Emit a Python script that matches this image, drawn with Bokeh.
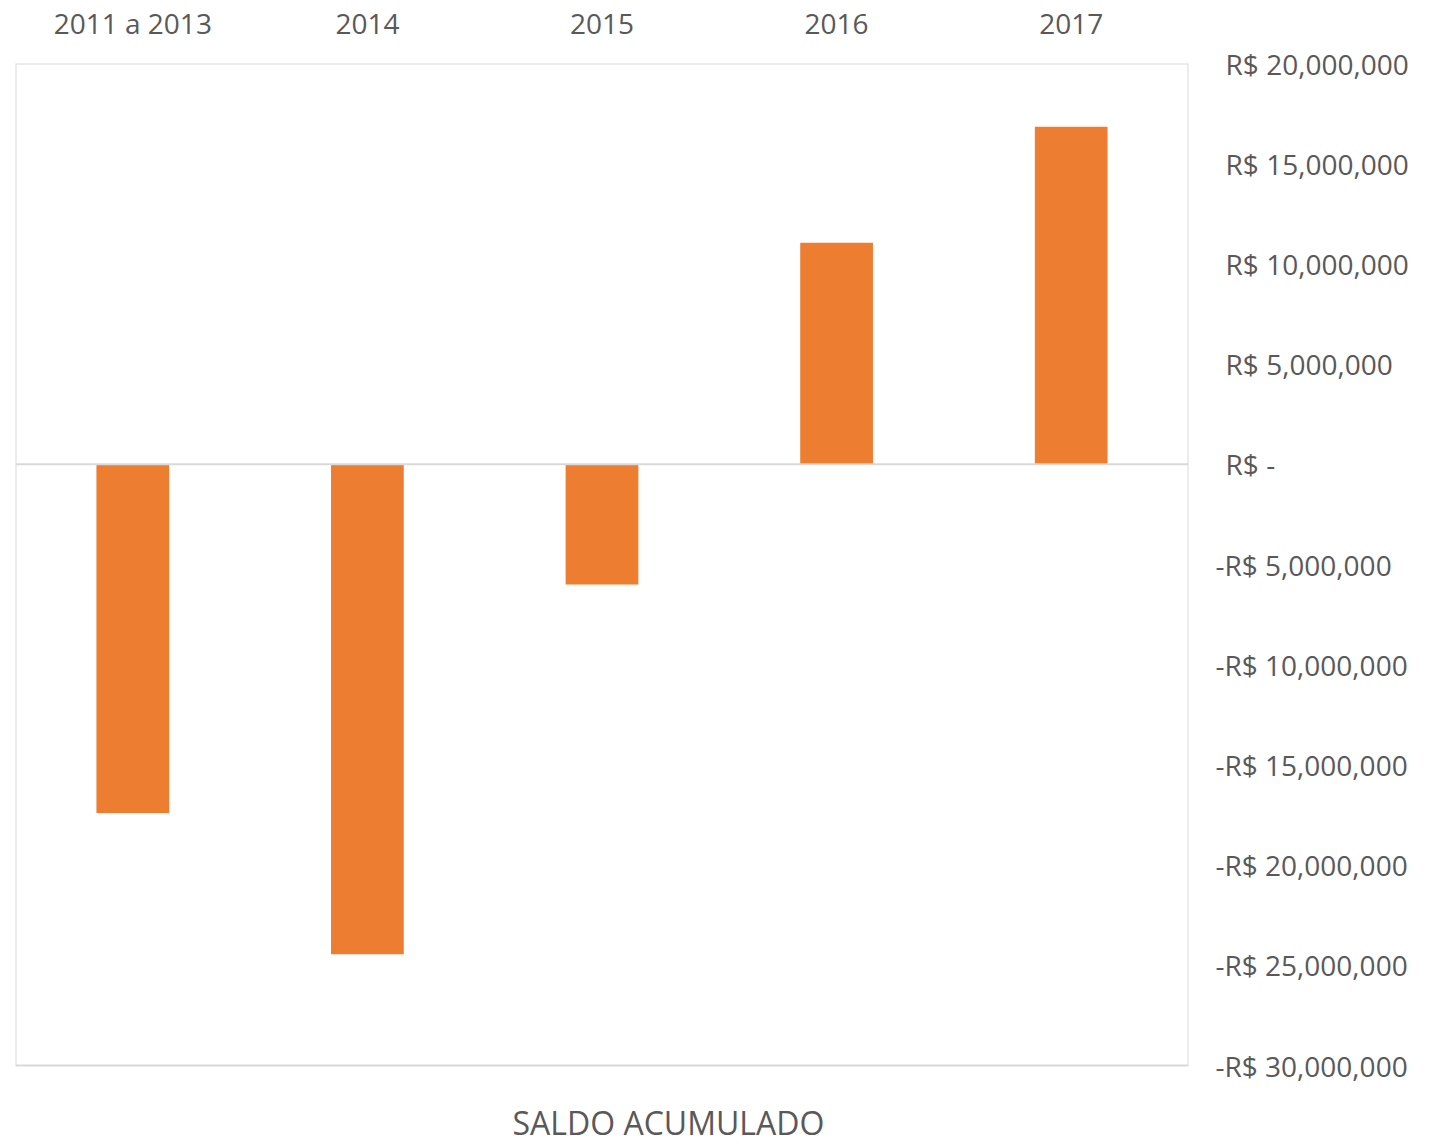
from bokeh.plotting import figure
from bokeh.models import (ColumnDataSource, Span, Label, BoxAnnotation,
                          FixedTicker, CustomJSTickFormatter)
from bokeh.embed import file_html
from bokeh.resources import INLINE

categories = ["2011 a 2013", "2014", "2015", "2016", "2017"]
saldo = [-17400000, -24450000, -6000000, 11050000, 16850000]
y_ticks = [20000000, 15000000, 10000000, 5000000, 0, -5000000, -10000000,
           -15000000, -20000000, -25000000, -30000000]
title_text = "SALDO ACUMULADO"

FONT = "Open Sans"
GREY = "#595959"

AX_TOP, AX_BOTTOM = 20000000, -30000000
PLOT_PX = 1002                      # pixel height of the plot area
UNIT = (AX_TOP - AX_BOTTOM) / PLOT_PX
EXTRA_PX = 79                       # room below the plot area for the title

src = ColumnDataSource(dict(cat=categories, val=saldo))

p = figure(x_range=categories, y_range=(AX_BOTTOM - EXTRA_PX * UNIT, AX_TOP),
           width=1448, height=1144, output_backend="svg", toolbar_location=None,
           x_axis_location="above", y_axis_location="right",
           min_border_left=15, min_border_right=260, min_border_top=63, min_border_bottom=0)

p.vbar(x="cat", top="val", bottom=0, width=0.31, source=src,
       fill_color="#ED7D31", line_color=None)

p.add_layout(Span(location=0, dimension="width", line_color="#d9d9d9", line_width=2))
p.add_layout(BoxAnnotation(top=AX_TOP, bottom=AX_BOTTOM, fill_alpha=0, fill_color=None,
                           line_color="#d9d9d9", line_alpha=1.0, line_width=2))

p.xgrid.visible = False
p.ygrid.visible = False
p.outline_line_color = None
p.background_fill_color = "white"
p.border_fill_color = "white"

for ax in (p.xaxis[0], p.yaxis[0]):
    ax.axis_line_color = None
    ax.major_tick_line_color = None
    ax.minor_tick_line_color = None
    ax.major_tick_out = 0
    ax.major_tick_in = 0
    ax.major_label_text_font = FONT
    ax.major_label_text_font_size = "28px"
    ax.major_label_text_color = GREY

p.xaxis[0].major_label_standoff = 22
p.yaxis[0].ticker = FixedTicker(ticks=y_ticks)
p.yaxis[0].major_label_standoff = 27
p.yaxis[0].formatter = CustomJSTickFormatter(code="""
    if (tick == 0) { return "\\u00a0\\u200aR$ -"; }
    const a = Math.abs(tick).toLocaleString('en-US');
    return (tick < 0 ? "-R$ " : "\\u00a0\\u200aR$ ") + a;
""")

lbl = Label(x=497, x_units="screen", y=AX_BOTTOM - 57 * UNIT, y_units="data",
            text=title_text, text_font=FONT, text_font_size="32px", text_color=GREY,
            text_baseline="middle", text_align="left")
p.add_layout(lbl)

open("out.html", "w").write(file_html(p, INLINE))
